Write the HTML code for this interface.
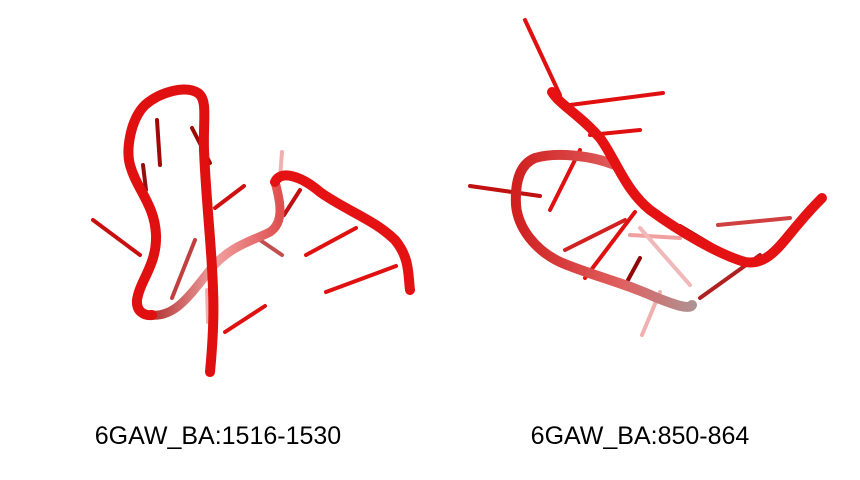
<!DOCTYPE html>
<html><head><meta charset="utf-8"><style>
html,body{margin:0;padding:0;background:#fff;}
svg{display:block;}
text{font-family:"Liberation Sans",Arial,sans-serif;font-size:25px;fill:#000;}
</style></head><body>
<svg width="860" height="480" viewBox="0 0 860 480">
<defs>
<linearGradient id="fadeL" x1="0" y1="0" x2="1" y2="0">
<stop offset="0" stop-color="#b03030"/><stop offset="0.5" stop-color="#f0a0a0"/><stop offset="1" stop-color="#e05050"/>
</linearGradient>
<linearGradient id="fadeR" x1="0" y1="0" x2="1" y2="0">
<stop offset="0" stop-color="#d02020"/><stop offset="0.6" stop-color="#e06060"/><stop offset="1" stop-color="#b09090"/>
</linearGradient>
</defs>
<g stroke-linecap="round" fill="none">
<g stroke-width="4">
<line x1="93" y1="220" x2="140" y2="255" stroke="#c81010"/>
<line x1="157" y1="120" x2="160" y2="165" stroke="#a00808"/>
<line x1="192" y1="128" x2="210" y2="163" stroke="#a00808"/>
<line x1="215" y1="208" x2="244" y2="186" stroke="#d01010"/>
<line x1="225" y1="332" x2="265" y2="306" stroke="#e01010"/>
<line x1="306" y1="255" x2="356" y2="228" stroke="#e01010"/>
<line x1="326" y1="292" x2="396" y2="266" stroke="#e01010"/>
<line x1="143" y1="165" x2="146" y2="190" stroke="#901010"/>
<line x1="284" y1="215" x2="300" y2="190" stroke="#c01010"/>
<line x1="172" y1="298" x2="195" y2="240" stroke="#c04040"/>
<line x1="260" y1="240" x2="282" y2="255" stroke="#c05050"/>
<line x1="282" y1="152" x2="280" y2="178" stroke="#f0b0b0"/>
<line x1="207" y1="290" x2="208" y2="322" stroke="#f0b0b0"/>
</g>
<path d="M150,315 C175,318 190,295 210,270 C230,245 255,240 270,232 C285,222 280,200 275,182" stroke="url(#fadeL)" stroke-width="9"/>
<path d="M210,372 C213,340 214,310 213,290 C212,250 206,200 204,150 C203,120 208,100 198,93 C185,85 160,92 145,105 C130,120 126,150 130,165 C137,190 155,205 156,235 C157,265 140,280 137,300 C136,312 145,316 152,315" stroke="#e01010" stroke-width="10"/>
<path d="M275,182 C280,170 300,175 320,192 C345,210 375,220 395,240 C410,258 408,275 410,290" stroke="#e41212" stroke-width="10"/>
</g>
<g stroke-linecap="round" fill="none">
<g stroke-width="4">
<line x1="525" y1="20" x2="560" y2="95" stroke="#e01010"/>
<line x1="570" y1="105" x2="663" y2="93" stroke="#e01010"/>
<line x1="590" y1="135" x2="640" y2="130" stroke="#e01010"/>
<line x1="470" y1="186" x2="540" y2="196" stroke="#c01010"/>
<line x1="580" y1="150" x2="550" y2="210" stroke="#e01010"/>
<line x1="635" y1="212" x2="585" y2="278" stroke="#e01010"/>
<line x1="565" y1="250" x2="625" y2="220" stroke="#d02020"/>
<line x1="630" y1="235" x2="680" y2="238" stroke="#f0a0a0"/>
<line x1="680" y1="226" x2="712" y2="245" stroke="#a00808"/>
<line x1="640" y1="258" x2="628" y2="280" stroke="#900808"/>
<line x1="718" y1="225" x2="790" y2="218" stroke="#d04040"/>
<line x1="700" y1="298" x2="760" y2="255" stroke="#b02020"/>
<line x1="660" y1="292" x2="642" y2="335" stroke="#f0b0b0"/>
<line x1="640" y1="228" x2="690" y2="285" stroke="#f0b8b8"/>
</g>
<path d="M615,165 C590,155 555,152 535,158 C518,165 515,185 516,205 C518,228 535,250 560,262 C590,275 625,283 655,297 C675,305 690,310 692,305" stroke="url(#fadeR)" stroke-width="10"/>
<path d="M552,92 C560,105 580,115 600,138 C615,158 625,190 650,210 C680,232 720,255 745,262 C768,266 780,245 800,222 C810,210 818,202 822,198" stroke="#e41212" stroke-width="10"/>
</g>
<text x="218" y="444" text-anchor="middle">6GAW_BA:1516-1530</text>
<text x="640" y="444" text-anchor="middle">6GAW_BA:850-864</text>
</svg>
</body></html>
